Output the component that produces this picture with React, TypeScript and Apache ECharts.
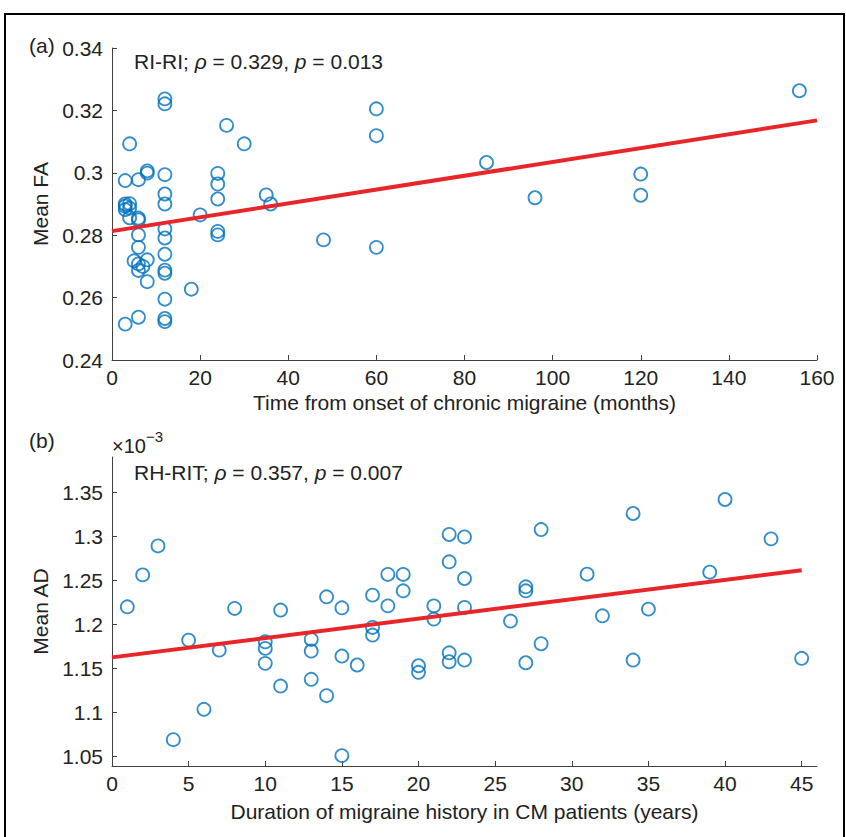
import React, { useEffect, useRef } from "react";
import * as echarts from "echarts";

// Panel (a): time from onset of chronic migraine (months) vs mean FA
const faMonths = [
  3, 6, 4, 3, 6, 8, 8,
  3, 4, 3, 3, 4, 4, 6, 6,
  6, 6, 5, 6, 7, 6, 8, 8,
  12, 12, 12, 12, 12, 12, 12, 12, 12, 12, 12, 12, 12,
  18, 20,
  24, 24, 24, 24, 24,
  26, 30, 35, 36, 48, 60, 60, 60, 85, 96, 120, 120, 156,
];
const faValues = [
  0.2515, 0.2537, 0.3093, 0.2975, 0.2978, 0.3006, 0.2999,
  0.29, 0.2901, 0.2893, 0.2882, 0.2887, 0.2856, 0.2855, 0.2849,
  0.2801, 0.2761, 0.2718, 0.2708, 0.27, 0.2687, 0.2721, 0.2651,
  0.3237, 0.3221, 0.2994, 0.2932, 0.29, 0.282, 0.2791, 0.2739, 0.2688, 0.2678, 0.2595, 0.2533, 0.2523,
  0.2627, 0.2865,
  0.2998, 0.2964, 0.2916, 0.2812, 0.2801,
  0.3152, 0.3093, 0.2929, 0.29, 0.2785, 0.3205, 0.3119, 0.2761, 0.3033, 0.292, 0.2996, 0.2928, 0.3263,
];
const faFitX = [0, 160];
const faFitY = [0.2813, 0.3168];
const faYTicks = [0.24, 0.26, 0.28, 0.3, 0.32, 0.34];

// Panel (b): duration of migraine history (years) vs mean AD (x10^-3)
const adYears = [
  1, 2, 3, 4, 5, 6, 7, 8, 10, 10, 10, 11, 11,
  13, 13, 13, 14, 14, 15, 15, 15, 16, 17, 17, 17, 18, 18, 19, 19, 20, 20,
  21, 21, 22, 22, 22, 22, 23, 23, 23, 23, 26, 27, 27, 27, 28, 28,
  31, 32, 34, 34, 35, 39, 40, 43, 45,
];
const adValues = [
  1.2202, 1.2565, 1.2894, 1.0693, 1.1824, 1.1038, 1.1711, 1.2184, 1.1805, 1.173, 1.156, 1.2165, 1.1302,
  1.1832, 1.17, 1.1379, 1.2316, 1.1193, 1.2191, 1.1643, 1.0512, 1.1541, 1.2335, 1.1968, 1.1881, 1.257, 1.2213, 1.257, 1.2384, 1.1533, 1.1458,
  1.2213, 1.2063, 1.3024, 1.2713, 1.168, 1.1578, 1.2996, 1.2524, 1.2195, 1.1597, 1.204, 1.2429, 1.2384, 1.1567, 1.308, 1.1783,
  1.2573, 1.21, 1.3262, 1.1597, 1.2176, 1.2596, 1.3421, 1.2974, 1.1617,
];
const adFitX = [0, 45];
const adFitY = [1.1628, 1.2618];
const adYTicks = [1.05, 1.1, 1.15, 1.2, 1.25, 1.3, 1.35];
const adXTicks = [0, 5, 10, 15, 20, 25, 30, 35, 40, 45];

const FONT = "'Liberation Sans', Arial, Helvetica, sans-serif";
const TEXT = "#222222";
const AXIS = "#404040";
const BLUE = "#0072BD";
const RED = "#E8262A";
const FS = 21;

const baseAxis = {
  type: "value" as const,
  splitLine: { show: false },
  axisLine: { show: true, onZero: false, lineStyle: { color: AXIS, width: 1 } },
  axisTick: { show: true, inside: true, length: 5, lineStyle: { color: AXIS, width: 1 } },
  axisLabel: { fontSize: FS, color: TEXT, fontFamily: FONT },
  nameLocation: "middle" as const,
  nameTextStyle: { fontSize: FS, color: TEXT, fontFamily: FONT },
};

export default function App() {
  const ref = useRef<HTMLDivElement>(null);
  useEffect(() => {
    if (!ref.current) return;
    const chart = echarts.init(ref.current, null, { renderer: "svg" });
    const scatterStyle = {
      color: "rgba(0,0,0,0)",
      borderColor: BLUE,
      borderWidth: 1.8,
    };
    const rich = {
      n: { fontSize: FS, fill: TEXT, fontFamily: FONT },
      i: { fontSize: FS, fill: TEXT, fontFamily: FONT, fontStyle: "italic" },
    };
    chart.setOption({
      animation: false,
      backgroundColor: "#ffffff",
      textStyle: { fontFamily: FONT },
      grid: [
        { left: 112, top: 48, width: 705, height: 312 },
        { left: 112, top: 457, width: 705, height: 309 },
      ],
      xAxis: [
        {
          ...baseAxis,
          gridIndex: 0,
          min: 0,
          max: 160,
          interval: 20,
          axisLabel: { ...baseAxis.axisLabel, margin: 7 },
          name: "Time from onset of chronic migraine (months)",
          nameGap: 32,
        },
        {
          ...baseAxis,
          gridIndex: 1,
          min: 0,
          max: 46,
          axisTick: { ...baseAxis.axisTick, customValues: adXTicks },
          axisLabel: { ...baseAxis.axisLabel, margin: 7, customValues: adXTicks },
          name: "Duration of migraine history in CM patients (years)",
          nameGap: 35,
        },
      ],
      yAxis: [
        {
          ...baseAxis,
          gridIndex: 0,
          min: faYTicks[0],
          max: faYTicks[faYTicks.length - 1],
          interval: 0.02,
          axisLabel: {
            ...baseAxis.axisLabel,
            margin: 9,
            formatter: (v: number) => String(Math.round(v * 100) / 100),
          },
          name: "Mean FA",
          nameGap: 53,
        },
        {
          ...baseAxis,
          gridIndex: 1,
          min: 1.0394,
          max: 1.3904,
          axisTick: { ...baseAxis.axisTick, customValues: adYTicks },
          axisLabel: {
            ...baseAxis.axisLabel,
            margin: 9,
            customValues: adYTicks,
            formatter: (v: number) => String(Math.round(v * 100) / 100),
          },
          name: "Mean AD",
          nameGap: 53,
        },
      ],
      series: [
        {
          type: "scatter",
          xAxisIndex: 0,
          yAxisIndex: 0,
          symbol: "circle",
          symbolSize: 13,
          itemStyle: scatterStyle,
          data: faMonths.map((m, i) => [m, faValues[i]]),
          z: 2,
        },
        {
          type: "line",
          xAxisIndex: 0,
          yAxisIndex: 0,
          showSymbol: false,
          symbol: "none",
          lineStyle: { color: RED, width: 4 },
          data: faFitX.map((x, i) => [x, faFitY[i]]),
          z: 3,
        },
        {
          type: "scatter",
          xAxisIndex: 1,
          yAxisIndex: 1,
          symbol: "circle",
          symbolSize: 13,
          itemStyle: scatterStyle,
          data: adYears.map((y, i) => [y, adValues[i]]),
          z: 2,
        },
        {
          type: "line",
          xAxisIndex: 1,
          yAxisIndex: 1,
          showSymbol: false,
          symbol: "none",
          lineStyle: { color: RED, width: 4 },
          data: adFitX.map((x, i) => [x, adFitY[i]]),
          z: 3,
        },
      ],
      graphic: [
        {
          type: "rect",
          shape: { x: 5, y: 14, width: 839, height: 840 },
          style: { fill: "none", stroke: "#000", lineWidth: 2 },
          silent: true,
        },
        {
          type: "text",
          left: 29,
          top: 35,
          style: { text: "(a)", fontSize: FS, fill: TEXT, fontFamily: FONT },
        },
        {
          type: "text",
          left: 29,
          top: 430,
          style: { text: "(b)", fontSize: FS, fill: TEXT, fontFamily: FONT },
        },
        {
          type: "text",
          left: 112,
          top: 436,
          style: { text: "×10", fontSize: 20, fill: TEXT, fontFamily: FONT },
        },
        {
          type: "text",
          left: 146,
          top: 429,
          style: { text: "−3", fontSize: 15, fill: TEXT, fontFamily: FONT },
        },
        {
          type: "text",
          left: 134,
          top: 51,
          style: {
            text: "{n|RI-RI; }{i|ρ}{n| = 0.329, }{i|p}{n| = 0.013}",
            fill: TEXT,
            fontFamily: FONT,
            rich,
          },
        },
        {
          type: "text",
          left: 134,
          top: 462,
          style: {
            text: "{n|RH-RIT; }{i|ρ}{n| = 0.357, }{i|p}{n| = 0.007}",
            fill: TEXT,
            fontFamily: FONT,
            rich,
          },
        },
      ],
    });
    return () => chart.dispose();
  }, []);
  return (
    <div
      ref={ref}
      style={{ position: "fixed", left: 0, top: 0, width: 846, height: 837, background: "#fff" }}
    />
  );
}
